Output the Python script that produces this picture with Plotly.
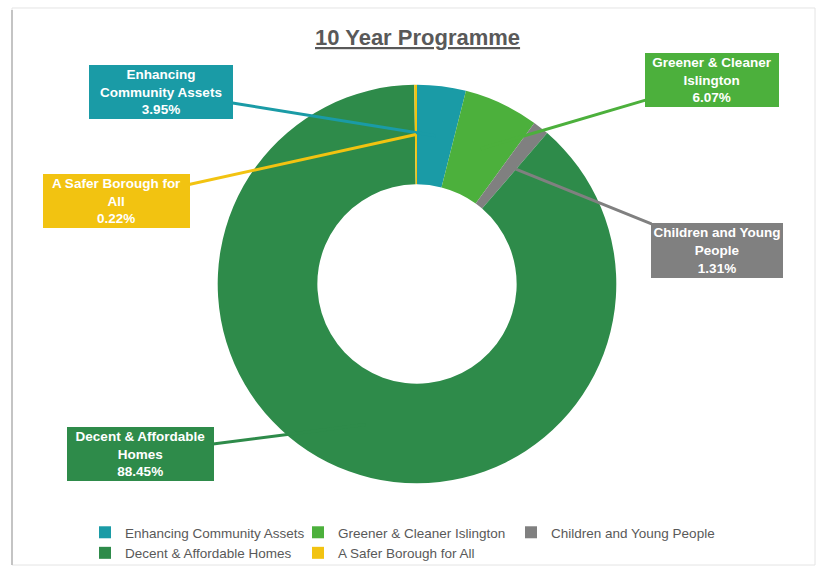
import math
import plotly.graph_objects as go

# ---- data ----
categories = ["Enhancing Community Assets", "Greener & Cleaner Islington",
              "Children and Young People", "Decent & Affordable Homes",
              "A Safer Borough for All"]
values = [3.95, 6.07, 1.31, 88.45, 0.22]
label_texts = ["Enhancing<br>Community Assets", "Greener & Cleaner<br>Islington",
               "Children and Young<br>People", "Decent & Affordable<br>Homes",
               "A Safer Borough for<br>All"]
title_text = "10 Year Programme"

# ---- style / layout ----
colors = ["#1A9BA6", "#4CB03C", "#808080", "#2E8B4A", "#F2C311"]
W, H = 819, 569
CX, CY, R = 417, 285, 200          # pie centre / radius in pixels
box_centers = [(161, 92), (712, 81), (717, 251), (140, 455), (116, 201)]
box_sizes = [(142, 52), (132, 52), (130, 53), (145, 52), (145, 52)]
FONT = "Liberation Sans, Arial, sans-serif"

fig = go.Figure(go.Pie(
    labels=categories, values=values, sort=False, direction="clockwise",
    rotation=0, hole=0.5, textinfo="none", hoverinfo="skip",
    marker=dict(colors=colors, line=dict(width=0)),
    domain=dict(x=[(CX - R) / W, (CX + R) / W],
                y=[(H - CY - R) / H, (H - CY + R) / H]),
))

total = sum(values)
annotations = []
cum = 0.0
for cat, v, txt, col, (bx, by), (bw, bh) in zip(categories, values, label_texts,
                                               colors, box_centers, box_sizes):
    mid = (cum + v / 2) / total * 2 * math.pi
    cum += v
    px = CX + 0.75 * R * math.sin(mid)
    py = CY - 0.75 * R * math.cos(mid)
    annotations.append(dict(
        x=px / W, y=1 - py / H, xref="paper", yref="paper",
        ax=bx - px, ay=by - py, showarrow=True, arrowhead=0, arrowwidth=3,
        arrowcolor=col, standoff=0, startstandoff=0,
        text=f"<b>{txt}<br>{v:.2f}%</b>", bgcolor=col, bordercolor=col,
        width=bw, height=bh, borderpad=0,
        font=dict(family=FONT, size=13.5, color="white"), align="center",
    ))

annotations.append(dict(
    x=418 / W, y=1 - 38 / H, xref="paper", yref="paper", showarrow=False,
    xanchor="center", yanchor="middle",
    text=f"<b><u>{title_text}</u></b>",
    font=dict(family=FONT, size=22, color="#595959"),
))

shapes = [
    dict(type="rect", xref="paper", yref="paper",
         x0=12 / W, x1=815 / W, y0=1 - 567 / H, y1=1 - 8 / H,
         line=dict(color="#E4E4E4", width=1)),
    dict(type="line", xref="paper", yref="paper",
         x0=12 / W, x1=12 / W, y0=1 - 567 / H, y1=1 - 10 / H,
         line=dict(color="#C4C4C4", width=2)),
]

fig.update_layout(
    width=W, height=H, margin=dict(l=0, r=0, t=0, b=0),
    paper_bgcolor="white", plot_bgcolor="white",
    annotations=annotations, shapes=shapes,
    showlegend=True,
    legend=dict(orientation="h", x=85 / W, xanchor="left",
                y=1 - 519 / H, yanchor="top", entrywidth=168,
                bgcolor="rgba(0,0,0,0)",
                font=dict(family=FONT, size=13.5, color="#595959"),
                itemwidth=30, tracegroupgap=0, traceorder="normal"),
)

fig.write_html("out.html", config={"displayModeBar": False},
               post_script="document.body.style.margin='0';")
